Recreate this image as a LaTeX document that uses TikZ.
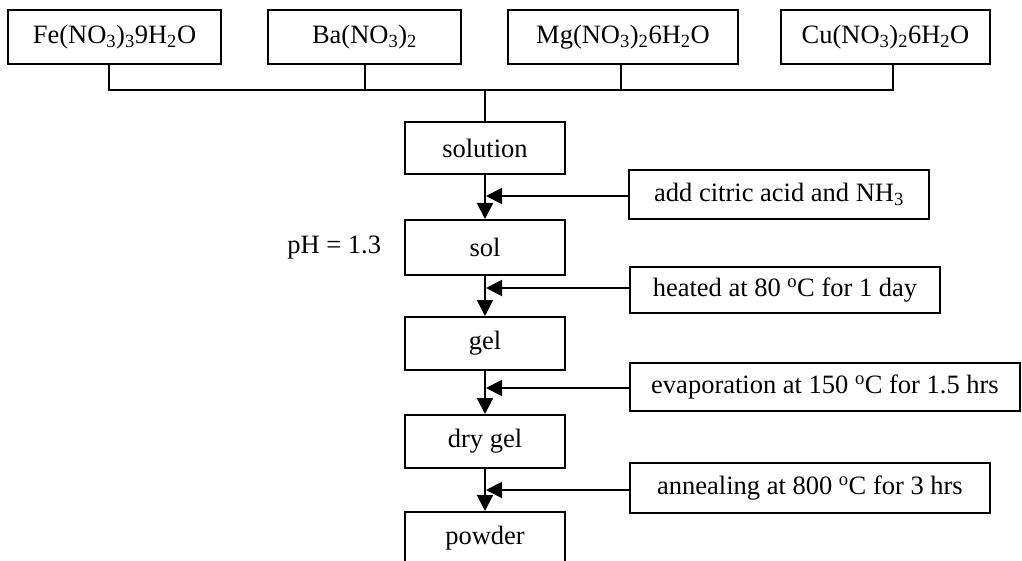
\documentclass[tikz,border=0pt]{standalone}
\usepackage{fontspec}
\setmainfont{Liberation Serif}
\usetikzlibrary{arrows.meta}
\newcommand{\sub}[1]{\textsubscript{#1}}
\newcommand{\degC}{\textsuperscript{o}C}
\begin{document}
\begin{tikzpicture}[x=1pt,y=-1pt,line width=2pt,
  txt/.style={font=\fontsize{26.5}{30}\selectfont},
  box/.style={draw,txt,inner sep=0pt,align=center},
  flow/.style={-{Triangle[length=16pt,width=16pt]}}]
\useasboundingbox (0,0) rectangle (1022,561);

% starting nitrates
\node[box,minimum width=213pt,minimum height=54pt] (fe) at (114.5,37) {Fe(NO\sub{3})\sub{3}9H\sub{2}O};
\node[box,minimum width=193pt,minimum height=54pt] (ba) at (364.5,37) {Ba(NO\sub{3})\sub{2}};
\node[box,minimum width=230pt,minimum height=54pt] (mg) at (623,37) {Mg(NO\sub{3})\sub{2}6H\sub{2}O};
\node[box,minimum width=209pt,minimum height=54pt] (cu) at (885.5,37) {Cu(NO\sub{3})\sub{2}6H\sub{2}O};

% main process chain
\node[box,minimum width=160pt,minimum height=52pt] (solution) at (485,148) {solution};
\node[box,minimum width=160pt,minimum height=55pt] (sol) at (485,247.5) {sol};
\node[box,minimum width=160pt,minimum height=53pt] (gel) at (485,343.5) {gel};
\node[box,minimum width=160pt,minimum height=53pt] (drygel) at (485,441.5) {dry gel};
\node[box,minimum width=160pt,minimum height=53pt] (powder) at (485,538.5) {powder};

\node[txt,anchor=east,inner sep=0pt] (ph) at (382,248) {pH = 1.3};

% process conditions
\node[box,minimum width=300pt,minimum height=49pt] (citric) at (779,194.5) {add citric acid and NH\sub{3}};
\node[box,minimum width=310pt,minimum height=46pt] (heated) at (785,290) {heated at 80 \degC{} for 1 day};
\node[box,minimum width=390pt,minimum height=48pt] (evap) at (825,387) {evaporation at 150 \degC{} for 1.5 hrs};
\node[box,minimum width=360pt,minimum height=50pt] (anneal) at (810,488) {annealing at 800 \degC{} for 3 hrs};

% collecting bus
\coordinate (hub) at (485,90);
\draw ([xshift=-5.5pt]fe.south) |- ([xshift=7.5pt]cu.south |- hub) -- ([xshift=7.5pt]cu.south);
\draw (ba.south) -- (ba.south |- hub);
\draw ([xshift=-2pt]mg.south) -- ([xshift=-2pt]mg.south |- hub);
\draw (hub) -- (solution.north);

% downward flow
\draw[flow] (solution) -- (sol);
\draw[flow] (sol) -- (gel);
\draw[flow] (gel) -- (drygel);
\draw[flow] (drygel) -- (powder);

% side inputs
\draw[flow] ([yshift=-1.5pt]citric.west) -- ([xshift=1pt,yshift=-1.5pt]citric.west -| solution.south);
\draw[flow] ([yshift=2pt]heated.west) -- ([xshift=1pt,yshift=2pt]heated.west -| sol.south);
\draw[flow] ([yshift=-1pt]evap.west) -- ([xshift=1pt,yshift=-1pt]evap.west -| gel.south);
\draw[flow] ([yshift=-2pt]anneal.west) -- ([xshift=1pt,yshift=-2pt]anneal.west -| drygel.south);
\end{tikzpicture}
\end{document}
